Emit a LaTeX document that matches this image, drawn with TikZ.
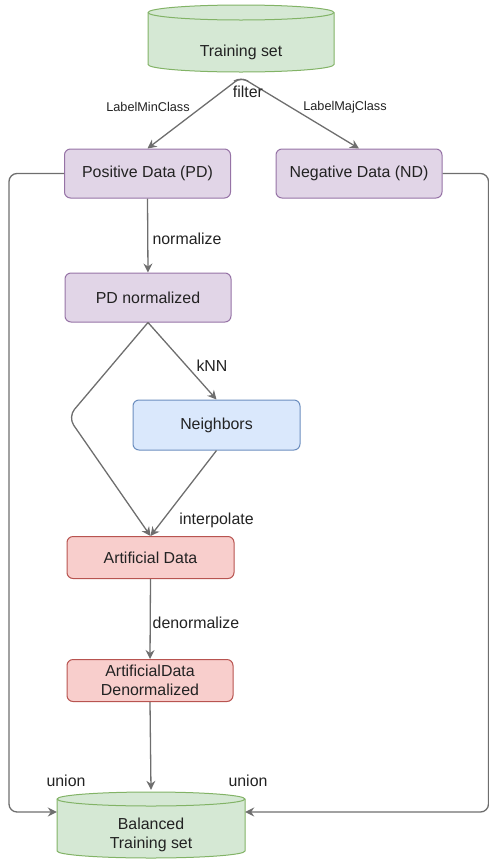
\documentclass[tikz,border=0pt]{standalone}
\usepackage{fontspec}
\setmainfont{Liberation Sans}
\usetikzlibrary{arrows.meta}
\definecolor{txt}{HTML}{222222}
\definecolor{edgec}{HTML}{6E6E6E}
\definecolor{pfill}{HTML}{E1D5E7}\definecolor{pdraw}{HTML}{9673A6}
\definecolor{gfill}{HTML}{D5E8D4}\definecolor{gdraw}{HTML}{82B366}
\definecolor{bfill}{HTML}{DAE8FC}\definecolor{bdraw}{HTML}{6C8EBF}
\definecolor{rfill}{HTML}{F8CECC}\definecolor{rdraw}{HTML}{B85450}
\tikzset{
  box/.style={draw, rounded corners=6pt, line width=1pt, minimum width=166pt, inner sep=0pt,
    text=txt, font=\fontsize{15.9}{18.5}\selectfont, align=center},
  pbox/.style={box, fill=pfill, draw=pdraw},
  bbox/.style={box, fill=bfill, draw=bdraw},
  rbox/.style={box, fill=rfill, draw=rdraw},
  cyl/.style={fill=gfill, draw=gdraw, line width=1pt},
  cyltext/.style={text=txt, font=\fontsize{15.9}{19.5}\selectfont, align=center, inner sep=0pt},
  arr/.style={draw=edgec, line width=1.3pt, -{Stealth[length=9pt,width=9pt,inset=3pt]}},
  lbl/.style={text=txt, font=\fontsize{15.9}{18}\selectfont, inner sep=0pt},
  slbl/.style={text=txt, font=\fontsize{12.7}{14}\selectfont, inner sep=0pt},
}
\begin{document}
\begin{tikzpicture}[x=1pt, y=1pt]
\useasboundingbox (0,0) rectangle (489,-860);
% cylinders
\filldraw[cyl] (148,-12.5) -- (148,-64.5) arc[start angle=180,end angle=360,x radius=93pt,y radius=7.5pt]
  -- (334,-12.5) arc[start angle=0,end angle=180,x radius=93pt,y radius=7.5pt] -- cycle;
\draw[gdraw, line width=1pt] (148,-12.5) arc[start angle=180,end angle=360,x radius=93pt,y radius=7.5pt];
\filldraw[cyl] (57,-799) -- (57,-851) arc[start angle=180,end angle=360,x radius=94pt,y radius=7pt]
  -- (245,-799) arc[start angle=0,end angle=180,x radius=94pt,y radius=7pt] -- cycle;
\draw[gdraw, line width=1pt] (57,-799) arc[start angle=180,end angle=360,x radius=94pt,y radius=7pt];

\node[cyltext, minimum width=186pt, minimum height=40pt] (ts) at (241,-52) {Training set};
\node[cyltext, minimum width=188pt, minimum height=90pt] (bal) at (151,-835) {Balanced\\Training set};

\node[pbox, minimum height=49pt] (pd) at (147.5,-173.5) {Positive Data (PD)};
\node[pbox, minimum height=49pt] (nd) at (359,-173.5) {Negative Data (ND)};
\node[pbox, minimum height=49pt] (pdn) at (148,-297.5) {PD normalized};
\node[bbox, minimum width=167pt, minimum height=50pt] (nb) at (216.5,-425) {Neighbors};
\node[rbox, minimum width=167pt, minimum height=42pt] (art) at (150.5,-557.5) {Artificial Data};
\node[rbox, minimum height=42pt] (adn) at (150,-680.5) {ArtificialData\\Denormalized};

% filter edges
\draw[arr, rounded corners=7pt] ([xshift=7pt,yshift=-9pt]ts.south) -- ([yshift=-5pt]ts.south) -- (pd.north);
\draw[arr, rounded corners=7pt] ([xshift=-7pt,yshift=-9pt]ts.south) -- ([yshift=-5pt]ts.south) -- (nd.north);
\node[lbl] (lfilter) at (248,-92) {filter};
\node[slbl] (lmin) at (148,-107) {LabelMinClass};
\node[slbl] (lmaj) at (345,-107) {LabelMajClass};

\draw[arr] (pd.south) -- (pdn.north);
\node[lbl] (lnorm) at (187,-239) {normalize};

\draw[arr] (pdn.south) -- (nb.north);
\node[lbl] (lknn) at (212,-366) {kNN};

\coordinate (bend) at (68,-417);
\draw[arr, rounded corners=10pt] (pdn.south) -- (bend) -- (art.north);
\draw[arr] (nb.south) -- (art.north);
\node[lbl] (linterp) at (216.5,-520) {interpolate};

\draw[arr] (art.south) -- (adn.north);
\node[lbl] (ldenorm) at (196,-623) {denormalize};

\draw[arr] (adn.south) -- (bal.north);

\draw[arr, rounded corners=8pt] (pd.west) -- ++(-55,0) |- ([yshift=23pt]bal.west);
\draw[arr, rounded corners=8pt] (nd.east) -- ++(46,0) |- ([yshift=23pt]bal.east);
\node[lbl] (lu1) at (66,-781) {union};
\node[lbl] (lu2) at (248,-781) {union};
\end{tikzpicture}
\end{document}
